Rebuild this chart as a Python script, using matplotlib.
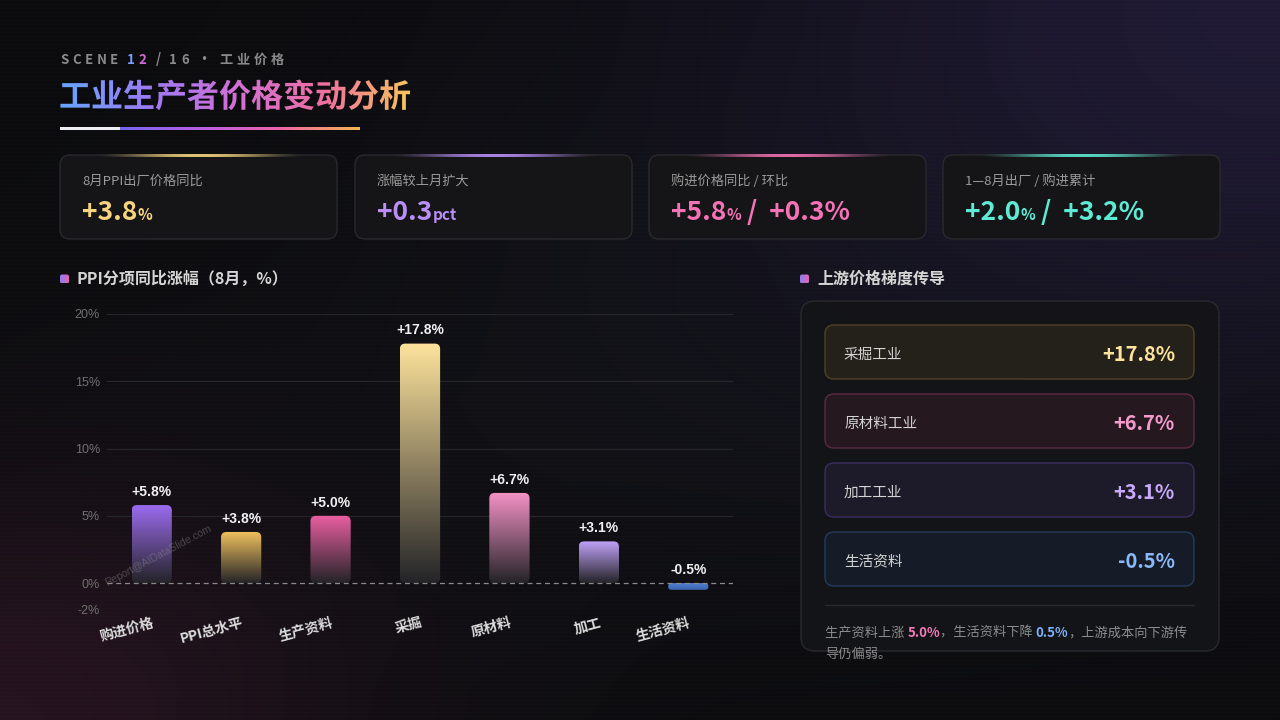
import numpy as np
import matplotlib
matplotlib.use("Agg")
import matplotlib.pyplot as plt
from matplotlib.patches import FancyBboxPatch, PathPatch
from matplotlib.textpath import TextPath
from matplotlib.font_manager import FontProperties
from matplotlib.transforms import Affine2D
from matplotlib.colors import to_rgb, LinearSegmentedColormap

plt.rcParams["font.family"] = ["Noto Sans CJK SC", "DejaVu Sans"]
CJK = ["Noto Sans CJK SC", "DejaVu Sans"]
LAT = ["Liberation Sans", "Noto Sans CJK SC"]

# ---------- data ----------
categories = ["购进价格", "PPI总水平", "生产资料", "采掘", "原材料", "加工", "生活资料"]
values = [5.8, 3.8, 5.0, 17.8, 6.7, 3.1, -0.5]
bar_colors = ["#9d6cf2", "#f2c35e", "#ea5fa2", "#fde39c", "#f592c6", "#c0a2f8", "#4c7fd6"]
y_ticks = [-2, 0, 5, 10, 15, 20]

kpi_labels = ["8月PPI出厂价格同比", "涨幅较上月扩大", "购进价格同比 / 环比", "1—8月出厂 / 购进累计"]
kpi_parts = [
    [("+3.8", "big"), ("%", "small")],
    [("+0.3", "big"), ("pct", "small")],
    [("+5.8", "big"), ("%", "small"), (" /  +0.3%", "big")],
    [("+2.0", "big"), ("%", "small"), (" /  +3.2%", "big")],
]
kpi_colors = ["#f7d57e", "#b98ef7", "#f472b6", "#5eead4"]

chain_labels = ["采掘工业", "原材料工业", "加工工业", "生活资料"]
chain_values = [17.8, 6.7, 3.1, -0.5]
chain_text = ["#fde39c", "#f59ccc", "#c8a8f8", "#8ab8f8"]
chain_fill = ["#24211a", "#25181f", "#1d1a2a", "#151c28"]
chain_edge = ["#4f4327", "#5e2a45", "#3b2e62", "#243b5e"]

note_parts = [
    ("生产资料上涨 ", "#8c8c8c", "normal"),
    ("5.0%", "#f47ab8", "bold"),
    ("，生活资料下降 ", "#8c8c8c", "normal"),
    ("0.5%", "#7eb0f5", "bold"),
    ("，上游成本向下游传", "#8c8c8c", "normal"),
]
note_line2 = "导仍偏弱。"

W, H = 1280, 720
fig = plt.figure(figsize=(12.8, 7.2), dpi=100)
bg = fig.add_axes([0, 0, 1, 1])
bg.set_xlim(0, W)
bg.set_ylim(H, 0)
bg.axis("off")
bg.set_autoscale_on(False)
renderer = fig.canvas.get_renderer()

# ---------- background ----------
yy, xx = np.mgrid[0:H, 0:W]
img = np.ones((H, W, 3)) * np.array([11, 11, 13], float)
g1 = np.exp(-(((xx - 1280) / 560) ** 2 + (yy / 380) ** 2))
img += g1[..., None] * np.array([20, 14, 38])
g2 = np.exp(-((xx / 360) ** 2 + ((yy - 720) / 240) ** 2))
img += g2[..., None] * np.array([26, 8, 18])
g3 = np.exp(-(((xx - 700) / 600) ** 2 + ((yy - 380) / 300) ** 2))
img += g3[..., None] * np.array([4, 5, 7])
img[::4] += 2.0
bg.imshow(np.clip(img / 255, 0, 1), extent=[0, W, H, 0], interpolation="nearest", zorder=0)


def hgrad(stops, n=256):
    cm = LinearSegmentedColormap.from_list("g", stops)
    return cm(np.linspace(0, 1, n))[None, :, :]


def rbox(x, y, w, h, r, fc, ec, lw=1.0, z=1, alpha=1.0):
    p = FancyBboxPatch((x, y), w, h, boxstyle=f"round,pad=0,rounding_size={r}",
                       fc=fc, ec=ec, lw=lw, zorder=z, alpha=alpha)
    bg.add_patch(p)
    return p


def runs(x, y, parts, va="baseline", z=5):
    for s, color, size, weight, fam in parts:
        t = bg.text(x, y, s, color=color, fontsize=size, fontweight=weight,
                    family=fam, va=va, ha="left", zorder=z)
        x += t.get_window_extent(renderer=renderer).width
    return x


def grad_text(s, x, base, size, stops):
    fp = FontProperties(family="Noto Sans CJK SC", weight="bold")
    tp = TextPath((0, 0), s, size=size, prop=fp)
    tr = Affine2D().scale(1, -1).translate(x, base) + bg.transData
    patch = PathPatch(tp, transform=tr, fc="none", ec="none")
    bg.add_patch(patch)
    ext = tp.get_extents()
    im = bg.imshow(hgrad(stops), extent=[x, x + ext.x1 + 2, base + 10, base - size],
                   aspect="auto", interpolation="bilinear", zorder=4)
    im.set_clip_path(patch)


# ---------- header ----------
scene = "SCENE 12 / 16 · 工业价格"
x = 60
for i, ch in enumerate(scene):
    if ch == " ":
        x += 5
        continue
    col = "#8a8a8a"
    if i == 6:
        col = "#7c9cff"
    elif i == 7:
        col = "#d36ad6"
    t = bg.text(x, 59.5, ch, color=col, fontsize=9.5, fontweight="bold", family=CJK,
                va="center", ha="left")
    x += t.get_window_extent(renderer=renderer).width + 3.8

title_stops = ["#66a6ff", "#9b7cf7", "#d26fd6", "#ef6fa0", "#f8c85a"]
grad_text("工业生产者价格变动分析", 59, 107, 32, title_stops)

bar_line = np.concatenate([
    np.tile(np.array([0.93, 0.93, 0.96, 1.0]), (60, 1)),
    hgrad(["#7466f0", "#b860e6", "#ee64a8", "#f6b650"], 240)[0],
])[None, :, :]
bg.imshow(bar_line, extent=[60, 360, 130.5, 127.5], aspect="auto", interpolation="bilinear", zorder=3)

# ---------- KPI cards ----------
card_x = [60, 355, 649, 943]
for cx, lab, parts, col in zip(card_x, kpi_labels, kpi_parts, kpi_colors):
    rbox(cx, 155, 277, 84, 10, "#151517", "#2a2a2e", z=2)
    c = np.array(to_rgb(col))
    tt = np.linspace(0, 1, 200)
    glow = np.zeros((1, 200, 4))
    glow[0, :, :3] = c
    glow[0, :, 3] = np.sin(np.pi * tt) ** 1.6 * 0.9
    bg.imshow(glow, extent=[cx + 35, cx + 245, 156.8, 154.2], aspect="auto",
              interpolation="bilinear", zorder=3)
    bg.text(cx + 22, 181, lab, color="#9a9a9a", fontsize=9.5, family=CJK, va="center", zorder=5)
    runs(cx + 22, 220, [(s, col, 19 if k == "big" else 11, "bold", CJK) for s, k in parts])

# ---------- section titles ----------
for sx, sy, txt in [(60, 279, "PPI分项同比涨幅（8月，%）"), (800, 279, "上游价格梯度传导")]:
    p = rbox(sx, sy - 4.5, 9, 9, 2, "none", "none", z=3)
    im = bg.imshow(hgrad(["#8f7cf5", "#e066b0"]), extent=[sx, sx + 9, sy + 4.5, sy - 4.5],
                   aspect="auto", zorder=3)
    im.set_clip_path(p)
    bg.text(sx + 17, sy, txt, color="#d6d6d6", fontsize=11.5, fontweight="bold",
            family=CJK, va="center", zorder=5)

# ---------- bar chart ----------
ax = fig.add_axes([107 / W, (H - 610) / H, 626 / W, 296 / H])
ax.patch.set_alpha(0)
for s in ax.spines.values():
    s.set_visible(False)
for t in y_ticks:
    if t == 0:
        ax.axhline(0, color="#8a8a8a", ls=(0, (4, 3)), lw=0.9, zorder=3)
    else:
        ax.axhline(t, color="#26262b", lw=0.8, zorder=1)

ASPECT = (89.4 / 13.45)
bw = 0.45
dark = np.array([0.14, 0.14, 0.155])
for i, (v, col) in enumerate(zip(values, bar_colors)):
    lo, hi = min(0, v), max(0, v)
    h = hi - lo
    r = min(0.06, h / ASPECT / 2)
    patch = FancyBboxPatch((i - bw / 2, lo), bw, h, boxstyle=f"round,pad=0,rounding_size={r}",
                           mutation_aspect=ASPECT, fc="none", ec="none", transform=ax.transData)
    ax.add_patch(patch)
    c = np.array(to_rgb(col))
    tt = np.linspace(0, 1, 200)[:, None]
    if v >= 0:
        rgb = dark * (1 - tt) + c * tt
    else:
        rgb = c * 0.8 * (1 - tt) + c * tt
    arr = np.concatenate([rgb, np.ones_like(tt)], axis=1)[:, None, :]
    im = ax.imshow(arr, extent=[i - bw / 2, i + bw / 2, lo, hi], origin="lower",
                   aspect="auto", interpolation="bilinear", zorder=2)
    im.set_clip_path(patch)
    ax.annotate(f"{v:+.1f}%", (i, hi), xytext=(0, 4.5), textcoords="offset points",
                ha="center", va="bottom", color="#f0f0f0", fontsize=10,
                fontweight="bold", family=LAT, zorder=5)

ax.set_xlim(-0.5, 6.5)
ax.set_ylim(-2, 20)
ax.set_yticks(y_ticks)
ax.set_yticklabels([f"{t}%" for t in y_ticks], color="#707070", fontsize=9, family=LAT)
ax.set_xticks(range(len(categories)))
ax.set_xticklabels(categories, rotation=15, ha="right", rotation_mode="anchor",
                   color="#dcdcdc", fontsize=10, fontweight="bold", family=CJK)
ax.tick_params(length=0)
ax.tick_params(axis="y", pad=5)
ax.tick_params(axis="x", pad=4)

ax.text(107, 586, "Report@AIDataSlide.com", transform=bg.transData, rotation=28,
        rotation_mode="anchor", ha="left", va="baseline", fontsize=7.5, family=LAT,
        color="#9a9a9a", alpha=0.4, zorder=6)

# ---------- right panel ----------
rbox(801, 301, 418, 350, 14, "#141518", "#2a2b30", z=2, alpha=0.95)
for k, (lab, val) in enumerate(zip(chain_labels, chain_values)):
    ry = 325 + k * 69
    rbox(825, ry, 369, 54, 9, chain_fill[k], chain_edge[k], z=3)
    bg.text(844, ry + 29.5, lab, color="#d4d4d4", fontsize=10.5, family=CJK, va="center", zorder=5)
    bg.text(1175, ry + 29.5, f"{val:+.1f}%", color=chain_text[k], fontsize=14.5,
            fontweight="bold", family=CJK, va="center", ha="right", zorder=5)

bg.plot([825, 1194], [605, 605], color="#2a2a2e", lw=1, zorder=3)
runs(825, 633, [(s, c, 9.5, w, CJK) for s, c, w in note_parts], va="center")
bg.text(825, 654, note_line2, color="#8c8c8c", fontsize=9.5, family=CJK, va="center", zorder=5)

bg.set_xlim(0, W)
bg.set_ylim(H, 0)
fig.savefig("out.png", dpi=100)
